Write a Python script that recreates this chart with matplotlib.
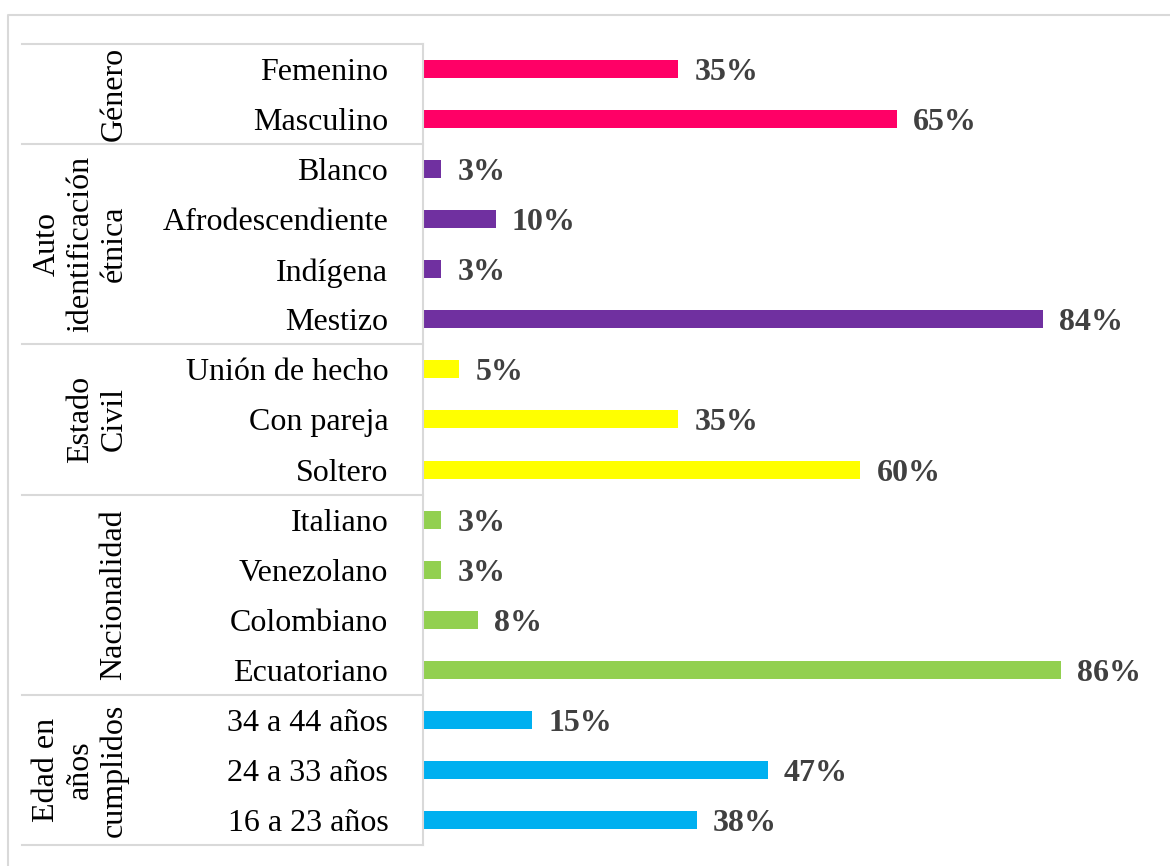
import numpy as np
import matplotlib
matplotlib.use("Agg")
from matplotlib import pyplot as plt
from matplotlib.lines import Line2D

plt.rcParams['font.family'] = ['Liberation Serif', 'DejaVu Serif']

# data, top to bottom
categories = ["Femenino", "Masculino",
              "Blanco", "Afrodescendiente", "Indígena", "Mestizo",
              "Unión de hecho", "Con pareja", "Soltero",
              "Italiano", "Venezolano", "Colombiano", "Ecuatoriano",
              "34 a 44 años", "24 a 33 años", "16 a 23 años"]
values = [0.35, 0.65,
          0.025, 0.10, 0.025, 0.85,
          0.05, 0.35, 0.60,
          0.025, 0.025, 0.075, 0.875,
          0.15, 0.473, 0.376]
value_labels = ["35%", "65%",
                "3%", "10%", "3%", "84%",
                "5%", "35%", "60%",
                "3%", "3%", "8%", "86%",
                "15%", "47%", "38%"]
groups = ["Género", "Auto\nidentificación\nétnica", "Estado\nCivil",
          "Nacionalidad", "Edad en\naños\ncumplidos"]
group_sizes = [2, 4, 3, 4, 3]
group_colors = ["#FF0066", "#7030A0", "#FFFF00", "#92D050", "#00B0F0"]

GRID = "#D9D9D9"
W, H = 1170, 866

fig = plt.figure(figsize=(11.7, 8.66), dpi=100)
ax = fig.add_axes([423 / W, 1 - 845 / H, 729 / W, (845 - 44) / H])

colors = []
for c, n in zip(group_colors, group_sizes):
    colors += [c] * n

y = np.arange(len(categories))
ax.barh(y, values, height=0.36, color=colors)

for yi, v, lab in zip(y, values, value_labels):
    ax.text(v + 0.022, yi + 0.22, lab, ha="left", va="baseline", fontsize=23,
            fontweight="bold", color="#404040")

ax.set_yticks(y)
ax.set_yticklabels(categories, fontsize=23)
ax.tick_params(axis="y", length=0, pad=25)
ax.set_xticks([])
ax.set_xlim(0, 1.0)
ax.set_ylim(len(categories) - 0.5, -0.5)

for s in ["top", "right", "bottom"]:
    ax.spines[s].set_visible(False)
ax.spines["left"].set_color(GRID)
ax.spines["left"].set_linewidth(1.5)

# group separators and group labels
tr = ax.get_yaxis_transform()
start = -0.5
ax.plot([-0.55, 0], [start, start], transform=tr, clip_on=False, color=GRID, lw=1.5)
for g, n in zip(groups, group_sizes):
    end = start + n
    ax.plot([-0.55, 0], [end, end], transform=tr, clip_on=False, color=GRID, lw=1.5)
    ax.text(-0.404, (start + end) / 2, g, transform=tr, rotation=90,
            ha="right", va="center", multialignment="center",
            fontsize=23, linespacing=1.2)
    start = end

# outer border (left and top edges visible)
fig.add_artist(Line2D([8 / W, 8 / W, 1.0], [0.0, 1 - 15 / H, 1 - 15 / H],
                      transform=fig.transFigure, color=GRID, lw=1.5))

fig.savefig("out.png", dpi=100)
